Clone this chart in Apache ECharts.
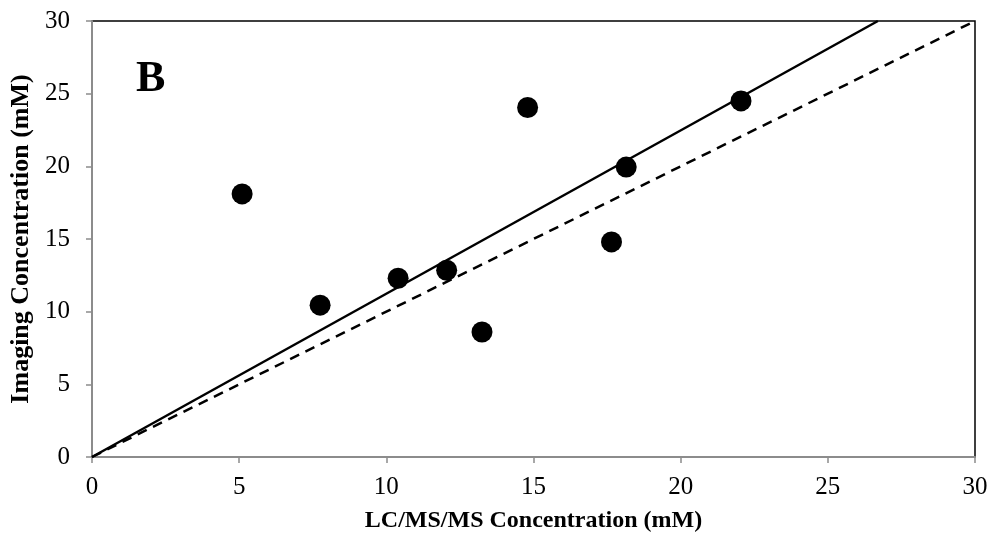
<!DOCTYPE html>
<html>
<head>
<meta charset="utf-8">
<script src="https://cdn.jsdelivr.net/npm/echarts@6/dist/echarts.min.js"></script>
<style>
  html, body { margin: 0; padding: 0; background: #fff; }
  #chart { width: 995px; height: 545px; }
</style>
</head>
<body>
<div id="chart"></div>
<script>
// measured points (LC/MS/MS vs imaging)
const lcmsValues = [5.1, 7.75, 10.4, 12.05, 13.25, 14.8, 17.65, 18.15, 22.05];
const imagingValues = [18.1, 10.45, 12.3, 12.85, 8.6, 24.05, 14.8, 19.95, 24.5];

// fitted regression line (solid) and identity line (dashed)
const fitLine = [[0, 0], [26.7, 30]];
const identityLine = [[0, 0], [30, 30]];

const axisTicks = [0, 5, 10, 15, 20, 25, 30];

const FONT = "'Liberation Serif', 'Times New Roman', serif";

const chartDom = document.getElementById("chart");
const myChart = echarts.init(chartDom);

const points = lcmsValues.map((x, i) => [x, imagingValues[i]]);

const option = {
  animation: false,
  backgroundColor: "#fff",
  grid: {
    left: 92,
    top: 21,
    right: 20,
    bottom: 88,
    show: true,
    borderColor: "#000",
    borderWidth: 1.5,
  },
  xAxis: {
    type: "value",
    min: axisTicks[0],
    max: axisTicks[axisTicks.length - 1],
    interval: 5,
    name: "LC/MS/MS Concentration (mM)",
    nameLocation: "middle",
    nameGap: 52,
    nameTextStyle: {
      fontFamily: FONT,
      fontWeight: "bold",
      fontSize: 24,
      color: "#000",
    },
    axisLine: { show: true, lineStyle: { color: "#8c8c8c", width: 2 } },
    axisTick: { show: true, length: 6, lineStyle: { color: "#8c8c8c", width: 1.5 } },
    axisLabel: { fontFamily: FONT, fontSize: 25, color: "#000", margin: 18 },
    splitLine: { show: false },
  },
  yAxis: {
    type: "value",
    min: axisTicks[0],
    max: axisTicks[axisTicks.length - 1],
    interval: 5,
    name: "Imaging Concentration (mM)",
    nameLocation: "middle",
    nameGap: 56,
    nameTextStyle: {
      fontFamily: FONT,
      fontWeight: "bold",
      fontSize: 26,
      color: "#000",
    },
    axisLine: { show: true, lineStyle: { color: "#8c8c8c", width: 2 } },
    axisTick: { show: true, length: 6, lineStyle: { color: "#8c8c8c", width: 1.5 } },
    axisLabel: { fontFamily: FONT, fontSize: 25, color: "#000", margin: 22 },
    splitLine: { show: false },
  },
  graphic: [
    {
      type: "text",
      left: 136,
      top: 58,
      style: {
        text: "B",
        fontFamily: FONT,
        fontWeight: "bold",
        fontSize: 44,
        fill: "#000",
      },
    },
  ],
  series: [
    {
      type: "line",
      data: identityLine,
      showSymbol: false,
      lineStyle: { color: "#000", width: 2.5, type: [10, 7] },
      z: 2,
    },
    {
      type: "line",
      data: fitLine,
      showSymbol: false,
      lineStyle: { color: "#000", width: 2.5 },
      z: 2,
    },
    {
      type: "scatter",
      data: points,
      symbol: "circle",
      symbolSize: 21,
      itemStyle: { color: "#000", opacity: 1 },
      z: 3,
    },
  ],
};

myChart.setOption(option);
</script>
</body>
</html>
